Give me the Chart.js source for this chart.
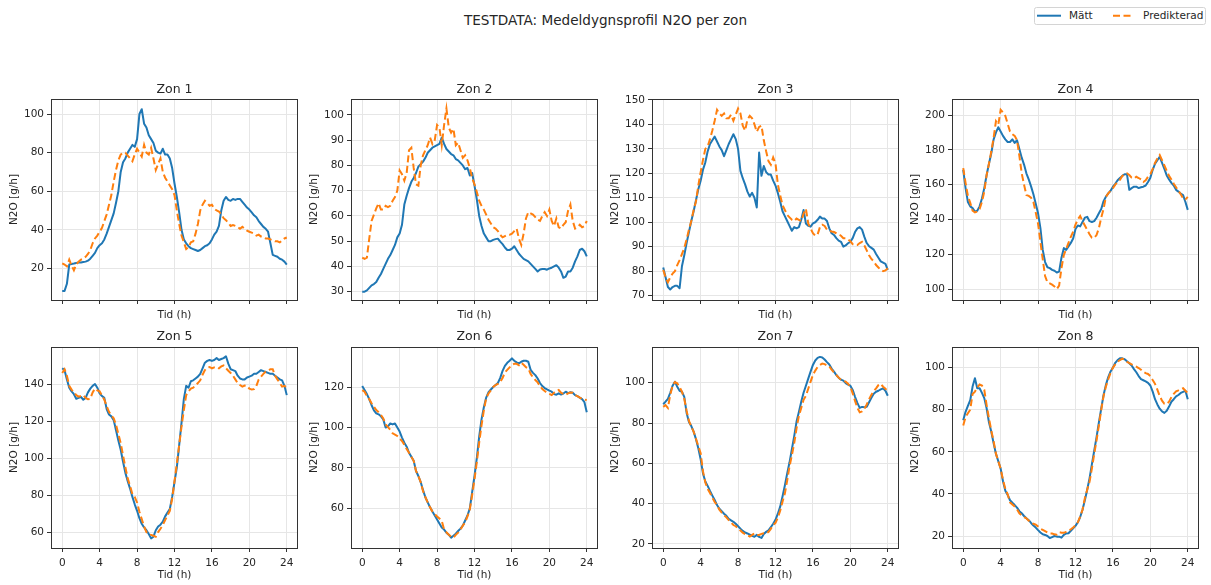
<!DOCTYPE html>
<html lang="sv">
<head>
<meta charset="utf-8">
<title>Medeldygnsprofil N2O per zon</title>
<script src="https://cdn.jsdelivr.net/npm/chart.js@4.4.1/dist/chart.umd.min.js"></script>
<style>
  body { margin: 0; background: #fff; font-family: 'DejaVu Sans', sans-serif; color: #262626; }
  #page { position: relative; width: 1211px; height: 585px; overflow: hidden; background: #fff; }
  #suptitle { position: absolute; left: 0; top: 12px; width: 1211px; text-align: center; font-size: 13.6px; line-height: 16px; }
  #legend { position: absolute; left: 1034px; top: 7px; }
  #legend text { font-family: 'DejaVu Sans', sans-serif; font-size: 10.5px; fill: #262626; }
  canvas { position: absolute; }
</style>
</head>
<body>
<div id="page">
  <div id="suptitle">TESTDATA: Medeldygnsprofil N2O per zon</div>
  <svg id="legend" width="173" height="19">
    <rect x="0.5" y="0.5" width="171" height="17" rx="2" fill="#fff" stroke="#d4d4d4"/>
    <line x1="3" y1="8.7" x2="27" y2="8.7" stroke="#1f77b4" stroke-width="2"/>
    <text x="35" y="12.3">Mätt</text>
    <line x1="79" y1="8.7" x2="98" y2="8.7" stroke="#ff7f0e" stroke-width="2" stroke-dasharray="7 3.5"/>
    <text x="109" y="12.3">Predikterad</text>
  </svg>
</div>
<script>
// kvartsvärden 0..24 h
const hours = Array.from({ length: 97 }, (_, i) => i / 4)
const xTicks = [0, 4, 8, 12, 16, 20, 24]
const zoneNames = ['Zon 1', 'Zon 2', 'Zon 3', 'Zon 4', 'Zon 5', 'Zon 6', 'Zon 7', 'Zon 8']

const yTicks = [
    [20, 40, 60, 80, 100],
    [30, 40, 50, 60, 70, 80, 90, 100],
    [70, 80, 90, 100, 110, 120, 130, 140, 150],
    [100, 120, 140, 160, 180, 200],
    [60, 80, 100, 120, 140],
    [60, 80, 100, 120],
    [20, 40, 60, 80, 100],
    [20, 40, 60, 80, 100],
]
const yRanges = [
    [3.6, 107.8], [26.7, 106.3], [68.2, 150.4], [93.7, 209.2],
    [51.4, 160], [40.4, 139.8], [18, 117.7], [14.3, 109.8],
]

const zon1Matt = [
    8.3, 8.3, 12, 22, 22.3, 22.5, 22.8, 23, 23, 23.3, 23.5, 24, 25, 26.5, 28, 30.5,
    32, 33, 35, 38, 41.5, 45, 48.5, 54, 60, 70, 75, 77, 80, 82, 84, 83,
    87, 100, 102.5, 95, 93, 89, 87, 85, 81, 80, 79.5, 82, 79, 79, 77, 72,
    64, 57, 49, 40, 35, 33, 31.5, 30.5, 30, 29.5, 29, 29.5, 30.5, 31.5, 32, 33,
    35, 37.5, 39, 42, 50, 55, 57, 55.5, 55, 56, 55.5, 56, 56, 54.5, 53, 51.5,
    50.5, 49, 47.5, 46.5, 44.5, 43, 41.5, 40.5, 39, 33, 27, 26.5, 26, 25, 24.5, 23.5,
    22]
const zon1Pred = [
    22.6, 22, 21, 24.5, 21.5, 19, 22, 23.5, 24.5, 25, 26, 27.5, 29.5, 33, 35.5, 37,
    39, 41, 44.5, 48, 53, 58, 65, 71, 76, 79, 80, 80, 78.5, 77, 75.5, 79,
    82, 80, 78, 84, 80, 79, 82.5, 77, 71, 74, 77, 70, 67, 65, 63, 61,
    58, 50, 43, 37, 33.5, 30, 31, 33.5, 34, 38, 43, 50, 53, 55, 54, 52.5,
    53, 51, 50, 49.5, 48, 46, 45, 43.5, 42, 42.5, 42, 41.5, 40.5, 41.5, 40.5, 39.5,
    39, 38.5, 38, 37, 37.5, 36.5, 36, 35.5, 35.5, 35, 34.5, 34, 34, 33.5, 34.5, 35.5,
    36]

const zon2Matt = [
    30, 30, 30.5, 31.5, 32.5, 33, 33.8, 35.5, 37, 39, 41, 43, 44.5, 46.5, 48.5, 51.5,
    53, 56.5, 64.5, 68, 71, 73.5, 75, 77, 79.5, 80.5, 81.5, 83, 85, 86, 87, 87.5,
    88, 88.5, 91, 88.5, 86.5, 85.5, 84.5, 84, 82.5, 82, 81, 80, 78.5, 79, 76, 77,
    72, 66.5, 60, 56, 53, 51.5, 50, 50, 50.5, 50.8, 51, 49.8, 48.8, 47.5, 46.5, 46.5,
    47, 48, 46.5, 45, 44, 43, 42.5, 42, 41, 40, 39, 38, 38.8, 39, 39, 38.7,
    39.2, 39.5, 40, 40.5, 39.5, 38, 35.5, 36, 38, 38, 39.5, 42, 44, 46.5, 47, 46,
    44]
const zon2Pred = [
    43.5, 43, 43.5, 51, 58, 60.5, 63, 65, 62.5, 62.5, 64, 63.5, 64, 66, 67.5, 70,
    78, 76.5, 74, 77, 86, 87, 79, 72.5, 72, 80, 84, 86, 88, 91, 88.5, 90,
    96, 95, 88, 96, 102.5, 95, 93, 94.5, 88, 89, 86, 83, 84, 82, 79, 75,
    72.5, 69.5, 66, 64, 62.5, 60.5, 58.5, 57, 55.5, 55, 54, 52.5, 51.5, 52, 52.5, 52.5,
    53, 54, 55, 51, 48.5, 53, 59, 61.5, 61, 60.5, 59.5, 58.5, 58, 60, 61.5, 60,
    62.5, 58, 56, 59, 55.5, 55, 56.5, 57.5, 62, 64.5, 58, 55, 55.5, 56.5, 55.5, 56,
    58]

const zon3Matt = [
    81.5, 77.5, 73.5, 72.5, 73.5, 74, 74, 73, 82, 86.5, 91.5, 96, 100.5, 104.5, 109, 113.5,
    117, 121.5, 124.5, 129, 132, 133.5, 135, 133, 131, 129.5, 127, 129.5, 132, 134, 136, 134,
    130, 121, 118, 115.5, 112.5, 110.5, 112, 110, 106, 128.5, 119, 123, 120.5, 119.5, 119.5, 117,
    115, 112, 108.5, 104.5, 102.5, 100.5, 98.5, 96.5, 98, 97.5, 98, 101, 105, 99.5, 98.5, 98.2,
    99.5, 100, 101, 102.3, 101.5, 101.5, 100.5, 97.5, 95.5, 94.8, 93.5, 92.5, 92, 90, 90.5, 91.4,
    92, 93.5, 96, 97.5, 98, 97, 94, 91.5, 90.2, 89.5, 88.8, 87, 85.5, 84, 83.5, 83,
    80.5]
const zon3Pred = [
    80.5, 77.5, 75.5, 77.5, 79, 80, 82.5, 84.5, 87, 89.5, 93, 97, 100.5, 105, 108.5, 115,
    120.5, 125.5, 130, 131, 134, 137.5, 141.5, 146, 144.5, 143.5, 144.5, 142.5, 142.5, 144, 141.5, 144,
    146.5, 144.5, 139.5, 137.5, 142, 143.5, 142.5, 140, 137, 139, 139.5, 133.5, 129, 125, 123.5, 126.5,
    124, 115.5, 111, 107, 105, 103, 102, 101, 100.5, 101.5, 101, 100.5, 103.5, 105.5, 99.5, 97.5,
    95.5, 94.5, 95, 98, 99, 98.5, 97, 96.5, 96.2, 96, 95.5, 95, 94.5, 93.5, 93.5, 93,
    92.2, 91, 90.7, 90.7, 91.5, 92, 90.5, 88.5, 86.5, 85, 84, 82.5, 81.5, 80.5, 80, 80.3,
    81.2]

const zon4Matt = [
    168.5, 158, 150, 147.5, 146.5, 144.5, 145, 147.5, 152, 158, 165.5, 172, 178, 186, 190, 193,
    190.5, 188, 186, 184.5, 184.5, 186, 184, 185.5, 180.5, 175.5, 171.5, 166.5, 163, 159, 154.5, 149,
    143.5, 135, 122.5, 115.5, 112.5, 112, 111, 110.5, 109.5, 110, 118, 123.5, 122.5, 124.5, 126.5, 129,
    134.5, 136.5, 136, 138.5, 141, 141.5, 139, 138.5, 139, 141, 143.5, 146, 150.5, 153, 155, 156.5,
    158.8, 160.5, 162.5, 163.8, 165, 166, 166, 157, 158, 158.8, 158.8, 158, 158.5, 158.8, 159.5, 161.5,
    164, 168.5, 172, 174, 176, 172.5, 169, 165.3, 163, 161, 159.5, 157, 156, 154.8, 154, 150,
    145.5]
const zon4Pred = [
    169.5, 161, 153.5, 149.5, 145, 144, 144.5, 146, 150, 156, 165.5, 172, 179, 187, 196.5, 194.5,
    203, 201.5, 199.5, 195, 190.5, 189, 188, 185.5, 176.5, 166.5, 160, 154, 153.5, 152.5, 150, 144,
    137.5, 127, 117, 107.5, 103.8, 103.3, 102.5, 101.5, 100, 102, 112, 119.5, 123, 126.5, 130, 133,
    137, 140, 142, 139, 136.5, 134, 131.5, 129.5, 129.5, 131, 135, 141, 146, 153, 155, 156.5,
    158, 160, 161.5, 162.8, 165, 166, 166.5, 165.5, 164, 163.5, 164.5, 163.8, 163, 161.5, 162.5, 164.5,
    166, 169, 172.5, 175, 177, 174, 171, 168, 165, 163, 160.5, 158.5, 156.5, 154.5, 152, 151.5,
    153]

const zon5Matt = [
    148.5, 147.5, 142.5, 138, 136, 134.5, 132, 132.5, 133, 131.5, 132.5, 135.5, 137.5, 139, 140, 138,
    135, 133.5, 132.5, 126.5, 123.5, 122.5, 120.5, 115, 109.5, 104.5, 98, 92, 87.5, 83.5, 79, 75,
    71.5, 67.5, 64.5, 62.5, 61, 59, 56.6, 57.5, 61, 63, 64, 65.6, 68.5, 70.5, 72.5, 79,
    87, 95, 107, 119, 132, 139, 138, 141.5, 142, 143, 144, 145.5, 148.5, 151.5, 152.5, 153,
    152.5, 153, 154, 153, 153.5, 154, 155, 151, 148, 147.5, 147, 144.5, 143, 142.5, 142.5, 143.5,
    144, 144.5, 145.5, 145.5, 146.5, 147.5, 147, 146.5, 146, 145.5, 145.5, 144.5, 143.5, 142.5, 142, 139,
    134]
const zon5Pred = [
    146, 148, 144.5, 139, 137, 135.5, 134, 133.2, 133.5, 134, 132.5, 131.8, 132, 135.5, 137.5, 136.5,
    136, 133.8, 131.5, 128, 125, 123, 121.5, 118, 113, 108, 101.5, 95, 89, 85, 80.5, 79,
    76, 71, 67, 63, 60, 58.8, 58.5, 58, 57.5, 60, 61.8, 63.8, 66.5, 69, 71.5, 78,
    87.5, 97, 107, 117, 126, 134, 136, 137.5, 138, 139.3, 140.5, 142, 145, 147.5, 148.8, 149.2,
    148.5, 149, 149.2, 148.5, 149.5, 150, 148.5, 147.2, 146, 144.5, 142.5, 140.5, 139.5, 138.6, 139.2, 139,
    137.5, 137, 137.2, 139, 142.5, 144, 145.5, 146.7, 147.2, 148, 148, 144.5, 142.5, 140.5, 138.6, 139,
    138]

const zon6Matt = [
    120.5, 118.5, 116.5, 114, 111, 108.5, 107, 106.5, 105.5, 104, 100, 100.5, 102, 101.5, 102, 100,
    98, 95, 92.5, 90.5, 87.5, 85.5, 83.5, 78.5, 76, 73, 69, 65.5, 63, 60.5, 58.4, 56.5,
    54.5, 52.5, 50.5, 49.5, 48, 47, 45.5, 46.5, 47.5, 48.8, 50, 51.5, 54, 56.5, 60, 68,
    76, 85, 95.5, 104, 110, 114.8, 117.5, 118.8, 120, 121, 122, 124.5, 128, 130.5, 132, 133,
    134.2, 133, 132.2, 131.7, 132.5, 133, 133, 132.5, 128.5, 127, 125.9, 124.2, 122, 120.5, 119.5, 118.8,
    118.2, 117.7, 116.5, 116.2, 116.9, 116.3, 116.8, 117.7, 117, 117.4, 117.2, 116, 115.5, 114.8, 114, 112.5,
    107.5]
const zon6Pred = [
    118.5, 117.7, 115.5, 114, 112, 110.3, 108.6, 107.5, 106.2, 104.5, 101.5, 100.2, 98.8, 97.1, 96.5, 95.8,
    94.6, 93.3, 91.5, 89.3, 87.5, 85.5, 83.5, 78.5, 76, 73, 68.5, 65.5, 63, 60.5, 58.4, 57.2,
    56, 55, 53.8, 49.5, 48.2, 47, 46, 45.5, 46.9, 48, 49.5, 51.5, 53, 56, 59.5, 66.6,
    74.5, 83, 92.5, 101, 108.5, 114.5, 116.8, 118.3, 120, 121, 121.5, 122.5, 124.5, 127.2, 128.5, 129.7,
    130.9, 131.5, 131.5, 130.8, 132, 131, 129.8, 129.2, 126.5, 124.8, 123.5, 122.3, 120.5, 119, 118, 117.2,
    116.6, 116, 117.2, 118, 118.5, 117.2, 116.5, 116.2, 116.9, 117.3, 117.2, 116, 115.5, 114.8, 114.2, 113.8,
    113.6]

const zon7Matt = [
    89.3, 90.6, 92, 95, 98.5, 100.5, 98, 96, 95.5, 93, 85, 80.5, 78.5, 75.7, 72, 67.5,
    62, 55, 51, 48.8, 46.3, 44, 41.8, 39.3, 37.5, 36.3, 35, 34, 32.5, 31.7, 31, 30,
    28.8, 27.6, 26.5, 25.7, 25.2, 24.6, 24, 23.6, 24.5, 23.5, 23, 25, 26, 26.8, 28.3, 30,
    32, 35, 38.5, 43.5, 49, 55, 60.5, 67, 73.5, 80.7, 85.5, 90.5, 95, 98.5, 102, 105.5,
    108.8, 111, 112.3, 112.8, 112.5, 111.5, 110.2, 109, 107, 105.5, 103.8, 102.5, 101.5, 101, 99.8, 99,
    98.5, 96.4, 93, 90, 87.5, 88, 87.8, 88, 90.3, 92.5, 94.5, 95.5, 96, 96.7, 97.2, 96,
    93.5]
const zon7Pred = [
    88, 88.9, 87.5, 94, 98.5, 100.3, 99.7, 97.8, 95.5, 92, 86, 81, 78.3, 75.7, 72.2, 68.5,
    65, 56, 50.5, 47.3, 45.3, 43, 40.8, 39.3, 37, 35.5, 34.3, 33.2, 31.8, 30.7, 29.4, 28.8,
    27.8, 26.7, 25.6, 24.9, 24.3, 23.7, 24.5, 25.2, 24.5, 24.5, 25, 25.3, 25.3, 26, 27.5, 29.4,
    30.5, 33, 36.5, 41, 45, 51.5, 58.5, 64, 70, 77.4, 83.5, 87.5, 91.5, 93.5, 97, 100.5,
    103.8, 106, 107.8, 108.8, 109.5, 109.2, 108.6, 108, 106.5, 105, 103.8, 102.5, 101.5, 101, 100.5, 99.5,
    98, 94.7, 91, 87.5, 85.3, 85.8, 87, 89.2, 91.8, 94, 95.8, 97.2, 98.8, 99.5, 98, 97,
    95.5]

const zon8Matt = [
    75, 79, 81.8, 84.5, 91, 95, 90.2, 90.2, 88, 85.5, 80.7, 74, 69.5, 64, 59, 55.5,
    52, 46, 41.5, 39.5, 37, 35.8, 34.7, 33.5, 31.8, 30.8, 29.5, 28.4, 27.5, 26.2, 25, 24,
    22.8, 21.7, 20.8, 20.5, 20, 19, 19.5, 20, 19.7, 19.7, 19.2, 20.5, 21.2, 21.3, 22.5, 23.7,
    24.8, 26.5, 29, 32.5, 37, 42, 47.4, 54, 60.5, 67, 74, 80.5, 87, 91.8, 95.5, 98.2,
    100, 102.3, 103.6, 104.4, 104.4, 104, 103, 102.1, 101, 99.3, 97.8, 96, 94.5, 94, 93.5, 92.8,
    91.5, 88.6, 85, 82.5, 80.5, 79.2, 78.5, 79.5, 81.5, 83.8, 85, 86.3, 87, 88, 88.5, 89,
    85]
const zon8Pred = [
    72.5, 76.5, 78.3, 80, 87.5, 88.6, 90.5, 92, 91.5, 89.5, 82.2, 76, 70, 65, 59, 55.5,
    52, 46.6, 42.5, 39.8, 36, 35, 34, 32.7, 30.8, 29.8, 29, 28.4, 27.3, 26.5, 25.8, 25.4,
    24.5, 23.5, 22.9, 22.3, 21.7, 21.2, 21.2, 20.8, 20.6, 21.8, 21.6, 21.5, 22, 22.5, 23.2, 24,
    25.2, 26.5, 29.2, 32.5, 38, 42, 45.8, 52, 59, 65.5, 72.5, 80, 86.5, 91, 94.5, 97.5,
    100, 101.5, 102.8, 103.6, 104.3, 103.8, 102.8, 102.1, 101.5, 101, 100.5, 99.8, 99, 98, 97.4, 97,
    96, 94.1, 92.3, 89.5, 86.5, 84.3, 82.8, 82.8, 83.8, 86, 87.5, 88.7, 89.2, 89.8, 90.2, 89,
    88]

const zones = [
    [zon1Matt, zon1Pred], [zon2Matt, zon2Pred], [zon3Matt, zon3Pred], [zon4Matt, zon4Pred],
    [zon5Matt, zon5Pred], [zon6Matt, zon6Pred], [zon7Matt, zon7Pred], [zon8Matt, zon8Pred],
]

Chart.defaults.font.family = "'DejaVu Sans', sans-serif"
Chart.defaults.font.size = 10.5
Chart.defaults.color = '#262626'

const BLUE = '#1f77b4'
const ORANGE = '#ff7f0e'
const colLeft = [0, 300, 601, 901]

// ram runt hela plottytan, som matplotlib-spines
const frame = {
    id: 'frame',
    afterDatasetsDraw(chart) {
        const { ctx, chartArea: { left, top, right, bottom } } = chart
        ctx.save()
        ctx.strokeStyle = '#333'
        ctx.lineWidth = 1
        ctx.strokeRect(left + 0.5, top + 0.5, right - left - 1, bottom - top)
        ctx.restore()
    }
}

const toPoints = (vals) => hours.map((h, i) => ({ x: h, y: vals[i] }))

const chartZone = (idx) => {
    const [matt, pred] = zones[idx]
    const bottomRow = idx >= 4
    const canvas = document.createElement('canvas')
    const w = 302
    const h = bottomRow ? 253 : 240
    canvas.width = w
    canvas.height = h
    canvas.style.width = w + 'px'
    canvas.style.height = h + 'px'
    canvas.style.left = colLeft[idx % 4] + 'px'
    canvas.style.top = (bottomRow ? 329 : 82) + 'px'
    document.getElementById('page').appendChild(canvas)

    const grid = { color: '#e6e6e6', lineWidth: 1, tickColor: '#333', tickLength: 4, tickWidth: 1 }

    const config = {
        type: 'line',
        data: {
            datasets: [
                {
                    label: 'Mätt',
                    data: toPoints(matt),
                    borderColor: BLUE,
                    borderWidth: 2,
                    borderJoinStyle: 'round',
                    pointRadius: 0,
                    tension: 0,
                    order: 1,
                },
                {
                    label: 'Predikterad',
                    data: toPoints(pred),
                    borderColor: ORANGE,
                    borderWidth: 2,
                    borderDash: [7, 3.5],
                    pointRadius: 0,
                    tension: 0,
                    order: 0,
                }
            ]
        },
        options: {
            responsive: false,
            animation: false,
            devicePixelRatio: 1,
            events: [],
            layout: { padding: { top: 0, right: 4, bottom: 0, left: 0 } },
            plugins: {
                legend: { display: false },
                tooltip: { enabled: false },
                title: {
                    display: true,
                    text: zoneNames[idx],
                    fullSize: false,
                    font: { size: 12.5, weight: 'normal' },
                    padding: { top: 0, bottom: bottomRow ? 3 : 2 },
                },
            },
            scales: {
                x: {
                    type: 'linear',
                    min: -1.2,
                    max: 25.2,
                    afterBuildTicks: (s) => { s.ticks = xTicks.map(v => ({ value: v })) },
                    afterFit: (s) => { s.height = bottomRow ? 34 : 22 },
                    ticks: { display: bottomRow, padding: 5, maxRotation: 0, autoSkip: false },
                    grid: grid,
                    border: { display: false },
                    title: { display: true, text: 'Tid (h)', padding: 0 },
                },
                y: {
                    min: yRanges[idx][0],
                    max: yRanges[idx][1],
                    afterBuildTicks: (s) => { s.ticks = yTicks[idx].map(v => ({ value: v })) },
                    afterFit: (s) => { s.width = 51 },
                    ticks: { padding: 3 },
                    grid: grid,
                    border: { display: false },
                    title: { display: true, text: 'N2O [g/h]', padding: { top: 7.8, bottom: 0 } },
                }
            }
        },
        plugins: [frame],
    }

    new Chart(canvas, config)
}

zones.forEach((_, i) => chartZone(i))
</script>
</body>
</html>
